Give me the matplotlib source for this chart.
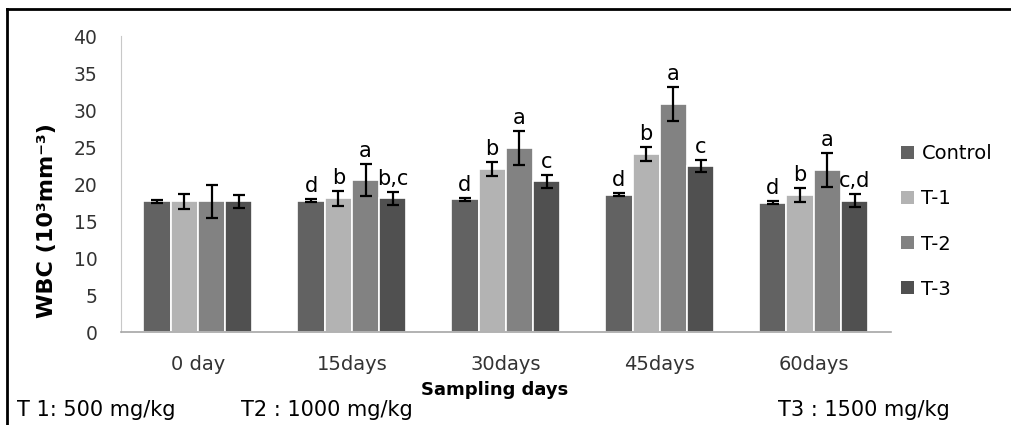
import matplotlib.pyplot as plt
import numpy as np
from matplotlib.lines import Line2D
from matplotlib.patches import Patch

# Data
days = ['0 day', '15days', '30days', '45days', '60days']
groups = ['Control', 'T-1', 'T-2', 'T-3']

control = [17.7, 17.8, 18.0, 18.6, 17.5]
t1 = [17.7, 18.1, 22.1, 24.1, 18.6]
t2 = [17.7, 20.6, 24.9, 30.9, 21.9]
t3 = [17.7, 18.1, 20.4, 22.5, 17.8]

control_err = [0.2, 0.2, 0.2, 0.2, 0.2]
t1_err = [1.0, 1.0, 0.95, 1.0, 0.95]
t2_err = [2.25, 2.2, 2.25, 2.3, 2.3]
t3_err = [0.9, 0.9, 0.9, 0.85, 0.9]

control_lbl = ['', 'd', 'd', 'd', 'd']
t1_lbl = ['', 'b', 'b', 'b', 'b']
t2_lbl = ['', 'a', 'a', 'a', 'a']
t3_lbl = ['', 'b,c', 'c', 'c', 'c,d']

colors = ['#626262', '#b3b3b3', '#828282', '#505050']

plt.rcParams['font.family'] = ['DejaVu Sans']

fig = plt.figure(figsize=(10.11, 4.25), dpi=100)
ax = fig.add_axes([121 / 1011, 1 - 332.3 / 425, (890.7 - 121) / 1011, (332.3 - 36.3) / 425])

x = np.arange(len(days))
w = 0.177
series = [(control, control_err, control_lbl), (t1, t1_err, t1_lbl),
          (t2, t2_err, t2_lbl), (t3, t3_err, t3_lbl)]

for i, (vals, errs, lbls) in enumerate(series):
    pos = x + (i - 1.5) * w
    ax.bar(pos, vals, w, color=colors[i], edgecolor='white', linewidth=1.2,
           label=groups[i], zorder=2)
    ax.errorbar(pos, vals, yerr=errs, fmt='none', ecolor='black',
                elinewidth=1.6, capsize=4, capthick=1.6, zorder=3)
    for p, v, e, s in zip(pos, vals, errs, lbls):
        if s:
            ax.annotate(s, (p, v + e), xytext=(0, 5), textcoords='offset points',
                        ha='center', va='baseline', fontsize=15, color='black')

ax.set_xlim(-0.5, 4.5)
ax.set_ylim(0, 40)
ax.set_yticks(range(0, 41, 5))
ax.set_xticks(x)
ax.set_xticklabels(days)
ax.tick_params(axis='x', length=0, pad=16, labelsize=14, colors='#333333')
ax.tick_params(axis='y', length=0, pad=17, labelsize=13.5, colors='#333333')

for side in ['top', 'right']:
    ax.spines[side].set_visible(False)
ax.spines['left'].set_color('#c8c8c8')
ax.spines['bottom'].set_color('#a6a6a6')
ax.spines['bottom'].set_linewidth(1.2)

# Legend
handles = [Patch(facecolor=c) for c in colors]
fig.legend(handles, groups, loc='upper left', bbox_to_anchor=(901 / 1011, 1 - 144 / 425),
           frameon=False, fontsize=14, handlelength=0.65, handleheight=0.65,
           handletextpad=0.4, labelspacing=1.35, borderpad=0, borderaxespad=0)

# Axis titles
fig.text(47 / 1011, 1 - 221 / 425, 'WBC (10³mm⁻³)', rotation=90, ha='center',
         va='center', fontsize=16, fontweight='bold', color='black')
fig.text(495 / 1011, 1 - 390 / 425, 'Sampling days', ha='center', va='center',
         fontsize=13, fontweight='bold', color='black')

# Dose notes
fig.text(17 / 1011, 1 - 410 / 425, 'T 1: 500 mg/kg', ha='left', va='center', fontsize=15)
fig.text(241 / 1011, 1 - 410 / 425, 'T2 : 1000 mg/kg', ha='left', va='center', fontsize=15)
fig.text(778 / 1011, 1 - 410 / 425, 'T3 : 1500 mg/kg', ha='left', va='center', fontsize=15)

# Outer frame (left and top edges)
fig.add_artist(Line2D([7 / 1011, 7 / 1011], [0, 1 - 9 / 425], color='black', linewidth=2,
                      transform=fig.transFigure))
fig.add_artist(Line2D([7 / 1011, 1], [1 - 9 / 425, 1 - 9 / 425], color='black', linewidth=2,
                      transform=fig.transFigure))

fig.savefig('out.png', dpi=100)
